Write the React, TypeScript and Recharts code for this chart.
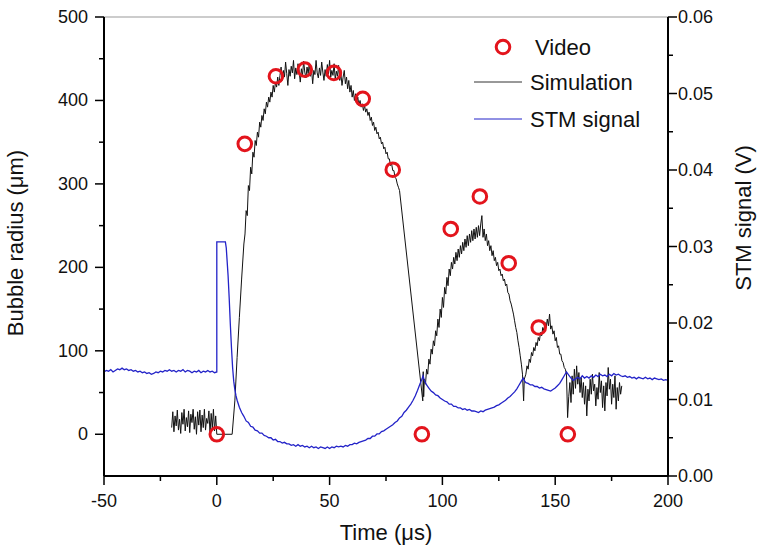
import React from 'react';
import { ComposedChart, Line, Scatter, XAxis, YAxis, ReferenceLine } from 'recharts';

const FONT = '"Liberation Sans", Arial, Helvetica, sans-serif';

// axis ticks (minor ones get no label)
const timeTicks = [-50, -25, 0, 25, 50, 75, 100, 125, 150, 175, 200];
const radiusTicks = [0, 50, 100, 150, 200, 250, 300, 350, 400, 450, 500];
const voltTicks = [0, 0.005, 0.01, 0.015, 0.02, 0.025, 0.03, 0.035, 0.04, 0.045, 0.05, 0.055, 0.06];

// video measurements: time (us) and bubble radius (um)
const videoTime = [0, 12.4, 26.2, 39, 51.9, 64.7, 78, 90.9, 103.7, 116.6, 129.4, 142.7, 155.6];
const videoRadius = [0, 348, 429, 437, 433, 402, 317, 0, 246, 285, 205, 128, 0];

// simulation: [time us, radius um]
const simulation: [number, number][] = [
  [-20, 8], [-19.5, 27], [-19, 3], [-18.5, 22], [-18, 10], [-17.5, 29], [-17, 5], [-16.5, 18], [-16, 1], [-15.5, 26],
  [-15, 12], [-14.5, 30], [-14, 4], [-13.5, 20], [-13, 9], [-12.5, 28], [-12, 2], [-11.5, 24], [-11, 14], [-10.5, 30],
  [-10, 6], [-9.5, 21], [-9, 0], [-8.5, 27], [-8, 11], [-7.5, 29], [-7, 3], [-6.5, 23], [-6, 8], [-5.5, 30],
  [-5, 5], [-4.5, 19], [-4, 13], [-3.5, 28], [-3, 1], [-2.5, 25], [-2, 7], [-1.5, 30], [-1, 4], [-0.5, 22], [0, 0],
  [3, 0], [6.8, 0], [8, 40], [9, 92], [10, 140], [11, 186], [12, 228], [12.5, 240], [13, 268], [13.5, 262],
  [14, 298], [14.5, 292], [15, 320], [15.5, 312], [16, 338], [16.5, 332], [17, 352], [17.5, 346], [18, 362], [18.5, 356],
  [19, 374], [19.5, 368], [20, 382], [20.5, 376], [21, 390], [21.5, 384], [22, 398], [22.5, 392], [23, 404], [23.5, 398],
  [24, 410], [24.5, 404], [25, 418], [25.5, 410], [26, 422], [26.5, 416], [27, 428], [27.5, 418],
  [28, 430], [28.5, 440], [29, 424], [29.5, 436], [30, 428], [30.5, 446], [31, 432], [31.5, 418], [32, 437], [32.5, 429],
  [33, 441], [33.5, 433], [34, 448], [34.5, 426], [35, 439], [35.5, 431], [36, 444], [36.5, 435], [37, 422], [37.5, 438],
  [38, 430], [38.5, 447], [39, 434], [39.5, 427], [40, 440], [40.5, 432], [41, 445], [41.5, 429], [42, 437], [42.5, 420],
  [43, 436], [43.5, 431], [44, 448], [44.5, 433], [45, 427], [45.5, 439], [46, 430], [46.5, 446], [47, 434], [47.5, 424],
  [48, 437], [48.5, 429], [49, 443], [49.5, 432], [50, 448], [50.5, 428], [51, 436], [51.5, 430], [52, 444], [52.5, 425],
  [53, 435], [53.5, 429], [54, 442], [54.5, 424], [55, 432], [55.5, 418], [56, 428],
  [56.5, 436], [57, 420], [57.5, 428], [58, 414], [58.5, 424], [59, 410], [59.5, 418], [60, 404], [60.5, 412], [61, 400],
  [61.5, 408], [62, 398], [62.5, 404], [63, 394], [63.5, 400], [64, 392], [64.5, 396], [65, 388], [65.5, 394], [66, 386],
  [66.5, 390], [67, 382], [67.5, 386], [68, 376], [68.5, 380], [69, 370], [69.5, 374], [70, 364], [70.5, 368], [71, 360],
  [71.5, 362], [72, 354], [72.5, 356], [73, 348], [73.5, 350], [74, 342], [74.5, 344], [75, 336], [75.5, 338], [76, 330],
  [76.5, 330], [77, 322], [77.5, 324], [78, 316], [78.5, 316], [79, 308], [79.5, 306], [80, 300], [80.5, 296], [81, 292],
  [91.3, 40], [91.5, 75], [91.7, 45], [92, 66], [92.5, 60], [93, 78], [93.5, 72], [94, 90], [94.5, 84], [95, 102],
  [95.5, 96], [96, 112], [96.5, 106], [97, 124], [97.5, 118], [98, 138], [98.5, 128], [99, 150], [99.5, 140], [100, 164],
  [100.5, 152], [101, 176], [101.5, 168], [102, 188], [102.5, 178], [103, 198], [103.5, 190], [104, 206], [104.5, 198], [105, 212],
  [105.5, 204], [106, 218], [106.5, 208], [107, 222], [107.5, 212], [108, 226], [108.5, 216], [109, 230], [109.5, 220], [110, 234],
  [110.5, 224], [111, 238], [111.5, 226], [112, 240], [112.5, 230], [113, 244], [113.5, 232], [114, 246], [114.5, 234], [115, 248],
  [115.5, 236], [116, 250], [116.5, 238], [117, 252], [117.5, 262], [118, 236], [118.5, 246], [119, 232], [119.5, 240], [120, 226],
  [120.5, 232], [121, 220], [121.5, 226], [122, 214], [122.5, 220], [123, 208], [123.5, 212], [124, 202], [124.5, 206], [125, 196],
  [125.5, 198], [126, 190], [126.5, 192], [127, 184], [127.5, 186], [128, 178], [128.5, 180], [129, 170], [129.5, 168], [130, 160],
  [130.5, 156], [131, 150], [131.5, 144], [132, 136], [132.5, 128], [133, 122], [133.5, 112], [134, 104], [134.5, 94], [135, 84],
  [135.5, 72], [136, 40], [136.3, 66],
  [137, 72], [137.5, 82], [138, 78], [138.5, 90], [139, 86], [139.5, 98], [140, 94], [140.5, 104], [141, 100], [141.5, 110],
  [142, 106], [142.5, 116], [143, 112], [143.5, 122], [144, 118], [144.5, 128], [145, 124], [145.5, 134], [146, 128], [146.5, 138],
  [147, 130], [147.5, 144], [148, 126], [148.5, 130], [149, 120], [149.5, 124], [150, 112], [150.5, 116], [151, 104], [151.5, 106],
  [152, 96], [152.5, 96], [153, 88], [153.5, 86], [154, 80], [154.5, 78], [155, 72], [155.5, 20], [156, 45],
  [156.5, 62], [157, 38], [157.5, 70], [158, 48], [158.5, 78], [159, 55], [159.5, 82], [160, 60], [160.5, 74], [161, 50],
  [161.5, 68], [162, 44], [162.5, 62], [163, 36], [163.5, 58], [164, 22], [164.5, 54], [165, 40], [165.5, 66], [166, 48],
  [166.5, 72], [167, 52], [167.5, 60], [168, 34], [168.5, 56], [169, 42], [169.5, 74], [170, 50], [170.5, 64], [171, 32],
  [171.5, 58], [172, 28], [172.5, 62], [173, 46], [173.5, 80], [174, 54], [174.5, 66], [175, 36], [175.5, 60], [176, 44],
  [176.5, 70], [177, 30], [177.5, 56], [178, 40], [178.5, 62], [179, 48], [179.5, 58],
];

// STM signal: [time us, volts]
const stmSignal: [number, number][] = [
  [-50, 0.0136], [-49, 0.0138], [-48, 0.0137], [-47, 0.0139], [-46, 0.0136], [-45, 0.0138], [-44, 0.0140], [-43, 0.0139],
  [-42, 0.0141], [-41, 0.0139], [-40, 0.0140], [-39, 0.0138], [-38, 0.0139], [-37, 0.0137], [-36, 0.0138], [-35, 0.0136],
  [-34, 0.0137], [-33, 0.0135], [-32, 0.0136], [-31, 0.0134], [-30, 0.0135], [-29, 0.0133], [-28, 0.0134], [-27, 0.0136],
  [-26, 0.0135], [-25, 0.0137], [-24, 0.0136], [-23, 0.0138], [-22, 0.0137], [-21, 0.0139], [-20, 0.0137], [-19, 0.0138],
  [-18, 0.0136], [-17, 0.0138], [-16, 0.0137], [-15, 0.0139], [-14, 0.0136], [-13, 0.0138], [-12, 0.0137], [-11, 0.0135],
  [-10, 0.0137], [-9, 0.0136], [-8, 0.0138], [-7, 0.0135], [-6, 0.0137], [-5, 0.0136], [-4, 0.0138], [-3, 0.0136],
  [-2, 0.0137], [-1, 0.0135], [0, 0.0136],
  [0, 0.0306], [3.8, 0.0306], [4.2, 0.0298], [5, 0.0262], [5.5, 0.0232], [6, 0.0198], [6.5, 0.0168], [7, 0.0142],
  [7.5, 0.0124], [8, 0.0113], [8.5, 0.0105], [9, 0.0099], [10, 0.0090], [11, 0.0083], [12, 0.0078], [13, 0.0072],
  [14, 0.0070], [15, 0.0065], [16, 0.0064], [17, 0.0060], [18, 0.0059], [19, 0.0056], [20, 0.0056], [21, 0.0053],
  [22, 0.0052], [23, 0.0050], [24, 0.0050], [25, 0.0047], [26, 0.0048], [27, 0.0045], [28, 0.0045], [29, 0.0043],
  [30, 0.0044], [31, 0.0042], [32, 0.0042], [33, 0.0040], [34, 0.0041], [35, 0.0039], [36, 0.0041], [37, 0.0039],
  [38, 0.0040], [39, 0.0038], [40, 0.0039], [41, 0.0037], [42, 0.0039], [43, 0.0037], [44, 0.0038], [45, 0.0036],
  [46, 0.0038], [47, 0.0037], [48, 0.0036], [49, 0.0038], [50, 0.0036], [51, 0.0038], [52, 0.0037], [53, 0.0039],
  [54, 0.0038], [55, 0.0039], [56, 0.0038], [57, 0.0040], [58, 0.0039], [59, 0.0041], [60, 0.0041], [61, 0.0043],
  [62, 0.0042], [63, 0.0044], [64, 0.0045], [65, 0.0046], [66, 0.0047], [67, 0.0049], [68, 0.0049], [69, 0.0052],
  [70, 0.0052], [71, 0.0055], [72, 0.0055], [73, 0.0058], [74, 0.0059], [75, 0.0061], [76, 0.0063], [77, 0.0065],
  [78, 0.0067], [79, 0.0070], [80, 0.0072], [81, 0.0076], [82, 0.0078], [83, 0.0083], [84, 0.0086], [85, 0.0090],
  [86, 0.0094], [87, 0.0099], [88, 0.0105], [89, 0.0112], [90, 0.0120], [91, 0.0127], [91.4, 0.0131], [92, 0.0125],
  [93, 0.0119], [94, 0.0115], [95, 0.0111], [96, 0.0109], [97, 0.0106], [98, 0.0105], [99, 0.0102], [100, 0.0100],
  [101, 0.0098], [102, 0.0097], [103, 0.0094], [104, 0.0094], [105, 0.0091], [106, 0.0091], [107, 0.0089], [108, 0.0089],
  [109, 0.0087], [110, 0.0088], [111, 0.0086], [112, 0.0087], [113, 0.0085], [114, 0.0085], [115, 0.0084], [116, 0.0083],
  [117, 0.0085], [118, 0.0084], [119, 0.0086], [120, 0.0087], [121, 0.0088], [122, 0.0089], [123, 0.0090], [124, 0.0092],
  [125, 0.0093], [126, 0.0095], [127, 0.0097], [128, 0.0099], [129, 0.0102], [130, 0.0104], [131, 0.0107], [132, 0.0110],
  [133, 0.0114], [134, 0.0119], [135, 0.0124], [135.8, 0.0128], [136.5, 0.0124], [137, 0.0122], [138, 0.0121], [139, 0.0119],
  [140, 0.0119], [141, 0.0117], [142, 0.0117], [143, 0.0115], [144, 0.0116], [145, 0.0114], [146, 0.0113], [147, 0.0112],
  [148, 0.0111], [149, 0.0113], [150, 0.0115], [151, 0.0118], [152, 0.0121], [153, 0.0126], [154, 0.0131], [155, 0.0136],
  [156, 0.0132], [157, 0.0128], [158, 0.0125], [159, 0.0127], [160, 0.0129], [161, 0.0127], [162, 0.0131], [163, 0.0128],
  [164, 0.0130], [165, 0.0128], [166, 0.0131], [167, 0.0129], [168, 0.0132], [169, 0.0130], [170, 0.0133], [171, 0.0131],
  [172, 0.0132], [173, 0.0130], [174, 0.0133], [175, 0.0131], [176, 0.0134], [177, 0.0132], [178, 0.0133], [179, 0.0131],
  [180, 0.0130], [181, 0.0131], [182, 0.0129], [183, 0.0130], [184, 0.0128], [185, 0.0129], [186, 0.0127], [187, 0.0129],
  [188, 0.0128], [189, 0.0127], [190, 0.0129], [191, 0.0127], [192, 0.0128], [193, 0.0126], [194, 0.0128], [195, 0.0127],
  [196, 0.0126], [197, 0.0127], [198, 0.0125], [199, 0.0126], [200, 0.0125],
];

const simData = simulation.map(([t, r]) => ({ t, r }));
const stmData = stmSignal.map(([t, v]) => ({ t, v }));
const videoData = videoTime.map((t, i) => ({ t, r: videoRadius[i] }));

const RED = '#e3141c';
const BLUE = '#2323c8';

function LeftTick({ x, y, payload }: any) {
  const major = payload.value % 100 === 0;
  return (
    <g>
      <line x1={x - (major ? 9 : 5)} x2={x} y1={y} y2={y} stroke="#000" strokeWidth={1.5} />
      {major && (
        <text x={x - 16} y={y} dy={6} textAnchor="end" fontSize={18} fontFamily={FONT} fill="#111">
          {payload.value}
        </text>
      )}
    </g>
  );
}

function RightTick({ x, y, payload }: any) {
  const hundredths = payload.value * 100;
  const major = Math.abs(hundredths - Math.round(hundredths)) < 1e-6;
  return (
    <g>
      <line x1={x} x2={x + (major ? 9 : 5)} y1={y} y2={y} stroke="#000" strokeWidth={1.5} />
      {major && (
        <text x={x + 10} y={y} dy={6} textAnchor="start" fontSize={18} fontFamily={FONT} fill="#111">
          {payload.value.toFixed(2)}
        </text>
      )}
    </g>
  );
}

function BottomTick({ x, y, payload }: any) {
  const major = payload.value % 50 === 0;
  return (
    <g>
      <line x1={x} x2={x} y1={y} y2={y + (major ? 9 : 5)} stroke="#000" strokeWidth={1.5} />
      {major && (
        <text x={x} y={y} dy={31} textAnchor="middle" fontSize={18} fontFamily={FONT} fill="#111">
          {payload.value}
        </text>
      )}
    </g>
  );
}

function VideoMark({ cx, cy }: any) {
  return <circle cx={cx} cy={cy} r={6.8} fill="none" stroke={RED} strokeWidth={3} />;
}

export default function App() {
  return (
    <div style={{ position: 'absolute', left: 0, top: 0, width: 759, height: 548, background: '#fff' }}>
      <ComposedChart width={759} height={548} margin={{ top: 17, right: 0, bottom: 0, left: 0 }}>
        <XAxis
          dataKey="t"
          type="number"
          domain={[-50, 200]}
          ticks={timeTicks}
          interval={0}
          height={72}
          tickSize={0}
          tickMargin={0}
          tickLine={false}
          tick={<BottomTick />}
          axisLine={{ stroke: '#000', strokeWidth: 2 }}
          allowDataOverflow
        />
        <YAxis
          yAxisId="left"
          type="number"
          domain={[-50, 500]}
          ticks={radiusTicks}
          interval={0}
          width={104}
          tickSize={0}
          tickMargin={0}
          tickLine={false}
          tick={<LeftTick />}
          axisLine={{ stroke: '#000', strokeWidth: 2 }}
          allowDataOverflow
        />
        <YAxis
          yAxisId="right"
          orientation="right"
          type="number"
          domain={[0, 0.06]}
          ticks={voltTicks}
          interval={0}
          width={91}
          tickSize={0}
          tickMargin={0}
          tickLine={false}
          tick={<RightTick />}
          axisLine={{ stroke: '#000', strokeWidth: 2 }}
          allowDataOverflow
        />
        <ReferenceLine yAxisId="left" y={500} stroke="#999" strokeWidth={1} />
        <Line
          yAxisId="left"
          data={simData}
          dataKey="r"
          type="linear"
          stroke="#111"
          strokeWidth={1}
          dot={false}
          isAnimationActive={false}
        />
        <Line
          yAxisId="right"
          data={stmData}
          dataKey="v"
          type="linear"
          stroke={BLUE}
          strokeWidth={1.3}
          dot={false}
          isAnimationActive={false}
        />
        <Scatter
          yAxisId="left"
          data={videoData}
          dataKey="r"
          shape={<VideoMark />}
          isAnimationActive={false}
        />
      </ComposedChart>

      <svg
        width={759}
        height={548}
        style={{ position: 'absolute', left: 0, top: 0, pointerEvents: 'none' }}
        fontFamily={FONT}
        fill="#111"
      >
        <text x={386} y={540} fontSize={22} textAnchor="middle">Time (μs)</text>
        <text x={23} y={243} fontSize={22} textAnchor="middle" transform="rotate(-90 23 243)">
          Bubble radius (μm)
        </text>
        <text x={751} y={218} fontSize={22} textAnchor="middle" transform="rotate(-90 751 218)">
          STM signal (V)
        </text>

        <circle cx={503} cy={47} r={6.8} fill="none" stroke={RED} strokeWidth={3} />
        <text x={535} y={55} fontSize={22}>Video</text>
        <line x1={474} x2={522} y1={82} y2={82} stroke="#333" strokeWidth={1} />
        <text x={530} y={90} fontSize={22}>Simulation</text>
        <line x1={474} x2={522} y1={119} y2={119} stroke={BLUE} strokeWidth={1} />
        <text x={530} y={127} fontSize={22}>STM signal</text>
      </svg>
    </div>
  );
}
